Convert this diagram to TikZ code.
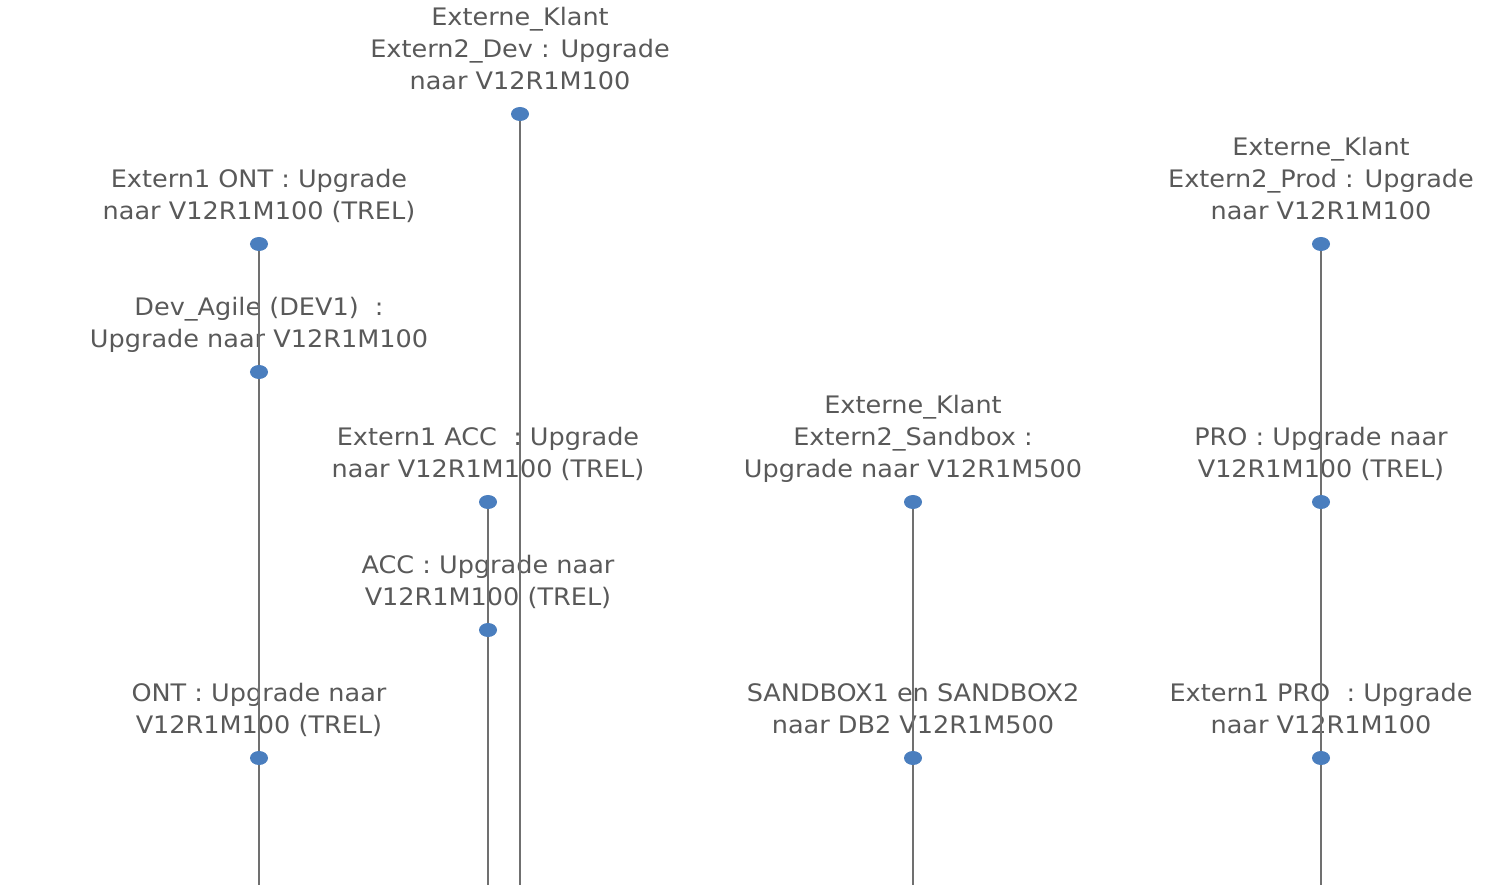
\documentclass[tikz,border=0pt]{standalone}
\usepackage{fontspec}
\setmainfont{DejaVu Sans}[FakeStretch=1.06]
\usepackage{tikz}
\usetikzlibrary{shapes.geometric}

\definecolor{labelgray}{HTML}{595959}
\definecolor{linegray}{HTML}{707070}
\definecolor{dotblue}{HTML}{4A7EBE}

\pgfdeclarelayer{textlayer}
\pgfdeclarelayer{linelayer}
\pgfsetlayers{textlayer,linelayer,main}

\begin{document}
\begin{tikzpicture}[x=0.01cm,y=-0.01cm,
  dot/.style={ellipse,fill=dotblue,inner sep=0pt,minimum width=1.8mm,minimum height=1.4mm},
  milestone/.style={align=center,text=labelgray,inner sep=0pt,text depth=2pt,
    font=\fontsize{6.85}{9.1}\selectfont},
  timeline/.style={draw=linegray,line width=0.75pt}]

\useasboundingbox (0,0) rectangle (1497,885);

% Kolom ONT
\node[dot] (extont) at (259,244) {};
\node[dot] (devagile) at (259,372) {};
\node[dot] (ont) at (259,758) {};
\coordinate (ontend) at (259,885);

% Kolom ACC
\node[dot] (extacc) at (488,502) {};
\node[dot] (acc) at (488,630) {};
\coordinate (accend) at (488,885);

% Kolom Extern2 Dev
\node[dot] (extdev) at (520,114) {};
\coordinate (devend) at (520,885);

% Kolom Sandbox
\node[dot] (extsandbox) at (913,502) {};
\node[dot] (sandbox) at (913,758) {};
\coordinate (sandboxend) at (913,885);

% Kolom PRO
\node[dot] (extprod) at (1321,244) {};
\node[dot] (pro) at (1321,502) {};
\node[dot] (extpro) at (1321,758) {};
\coordinate (proend) at (1321,885);

% Labels
\begin{pgfonlayer}{textlayer}
\node[milestone] at (extont) [above=1.65mm] {Extern1 ONT : Upgrade\\naar V12R1M100 (TREL)};
\node[milestone] at (devagile) [above=1.65mm] {Dev\_Agile (DEV1)\ \ :\\Upgrade naar V12R1M100};
\node[milestone] at (ont) [above=1.65mm] {ONT : Upgrade naar\\V12R1M100 (TREL)};
\node[milestone] at (extacc) [above=1.65mm] {Extern1 ACC\ \ : Upgrade\\naar V12R1M100 (TREL)};
\node[milestone] at (acc) [above=1.65mm] {ACC : Upgrade naar\\V12R1M100 (TREL)};
\node[milestone] at (extdev) [above=1.65mm] {Externe\_Klant\\Extern2\_Dev : Upgrade\\naar V12R1M100};
\node[milestone] at (extsandbox) [above=1.65mm] {Externe\_Klant\\Extern2\_Sandbox :\\Upgrade naar V12R1M500};
\node[milestone] at (sandbox) [above=1.65mm] {SANDBOX1 en SANDBOX2\\naar DB2 V12R1M500};
\node[milestone] at (extprod) [above=1.65mm] {Externe\_Klant\\Extern2\_Prod : Upgrade\\naar V12R1M100};
\node[milestone] at (pro) [above=1.65mm] {PRO : Upgrade naar\\V12R1M100 (TREL)};
\node[milestone] at (extpro) [above=1.65mm] {Extern1 PRO\ \ : Upgrade\\naar V12R1M100};
\end{pgfonlayer}

% Tijdlijnen
\begin{pgfonlayer}{linelayer}
\draw[timeline] (extont.center) -- (devagile.center) -- (ont.center) -- (ontend);
\draw[timeline] (extacc.center) -- (acc.center) -- (accend);
\draw[timeline] (extdev.center) -- (devend);
\draw[timeline] (extsandbox.center) -- (sandbox.center) -- (sandboxend);
\draw[timeline] (extprod.center) -- (pro.center) -- (extpro.center) -- (proend);
\end{pgfonlayer}

\end{tikzpicture}
\end{document}
